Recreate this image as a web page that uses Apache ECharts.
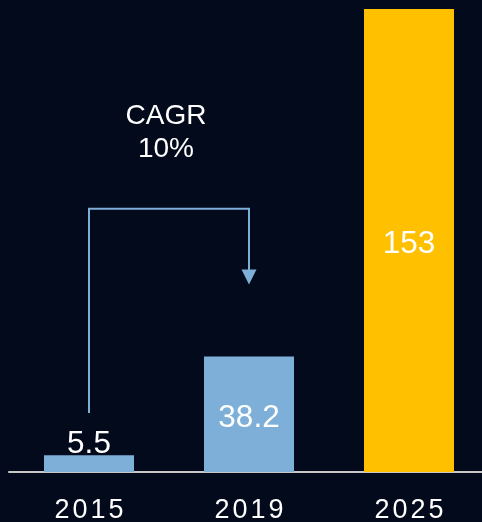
<!DOCTYPE html>
<html>
<head>
<meta charset="utf-8">
<script src="https://cdn.jsdelivr.net/npm/echarts@6/dist/echarts.min.js"></script>
<style>
html,body{margin:0;padding:0;background:#030A1C;}
#c{width:482px;height:522px;}
</style>
</head>
<body>
<div id="c"></div>
<script>
var categories = ['2015', '2019', '2025'];
var values = [5.5, 38.2, 153];
var barColors = ['#7DAFD8', '#7DAFD8', '#FFC000'];
var labelPositions = ['top', 'inside', 'inside'];
// CAGR bracket: from category 0 to category 1 (values on the y scale)
var bracketStart = 19.5;   // bottom of left leg
var bracketTop = 87;       // horizontal bar level
var bracketEnd = 62;       // arrow tip level
var cagrText = ['CAGR', '10%'];
var cagrLevel = 112;

var FONT = '"Liberation Sans", Arial, sans-serif';
var chart = echarts.init(document.getElementById('c'), null, {renderer: 'canvas'});

var barData = values.map(function (v, i) {
  return {
    value: v,
    itemStyle: {color: barColors[i]},
    label: {position: labelPositions[i], distance: labelPositions[i] === 'top' ? -1 : 5}
  };
});

chart.setOption({
  backgroundColor: '#030A1C',
  animation: false,
  grid: {left: 9, width: 480, top: 9, bottom: 50, outerBoundsMode: 'none', containLabel: false},
  xAxis: {
    type: 'category',
    data: categories,
    axisLine: {show: true, lineStyle: {color: '#C8C8C8', width: 2}},
    axisTick: {show: false},
    axisLabel: {
      margin: 25,
      formatter: function (v) {
        return v.split('').map(function (ch) { return '{d|' + ch + '}'; }).join('');
      },
      rich: {
        d: {color: '#FFFFFF', fontSize: 27, fontFamily: FONT, padding: [0, 1.5, 0, 1.5]}
      }
    }
  },
  yAxis: {
    type: 'value', min: 0, max: 153, show: false,
    splitLine: {show: false}
  },
  series: [
    {
      type: 'bar',
      data: barData,
      barWidth: 90,
      label: {show: true, color: '#FFFFFF', fontSize: 31.5, fontFamily: FONT, offset: [0, 4]}
    },
    {
      type: 'custom',
      data: [[0]],
      z: 5,
      renderItem: function (params, api) {
        var p0 = api.coord([0, bracketStart]);
        var p1 = api.coord([0, bracketTop]);
        var p2 = api.coord([1, bracketTop]);
        var tip = api.coord([1, bracketEnd]);
        var ty = api.coord([0, cagrLevel])[1];
        var tx = (p1[0] + p2[0]) / 2;
        var col = '#7DAFD8';
        return {
          type: 'group',
          children: [
            {
              type: 'polyline',
              shape: {points: [p0, p1, p2, [tip[0], tip[1] - 14]]},
              style: {stroke: col, lineWidth: 2, fill: null}
            },
            {
              type: 'polygon',
              shape: {points: [[tip[0] - 7.5, tip[1] - 15], [tip[0] + 7.5, tip[1] - 15], [tip[0], tip[1]]]},
              style: {fill: col}
            },
            {
              type: 'text',
              x: tx - 3, y: ty,
              style: {
                text: cagrText.join('\n'),
                fill: '#FFFFFF',
                font: '28px ' + FONT,
                align: 'center',
                verticalAlign: 'middle',
                lineHeight: 33
              }
            }
          ]
        };
      }
    }
  ]
});
</script>
</body>
</html>
